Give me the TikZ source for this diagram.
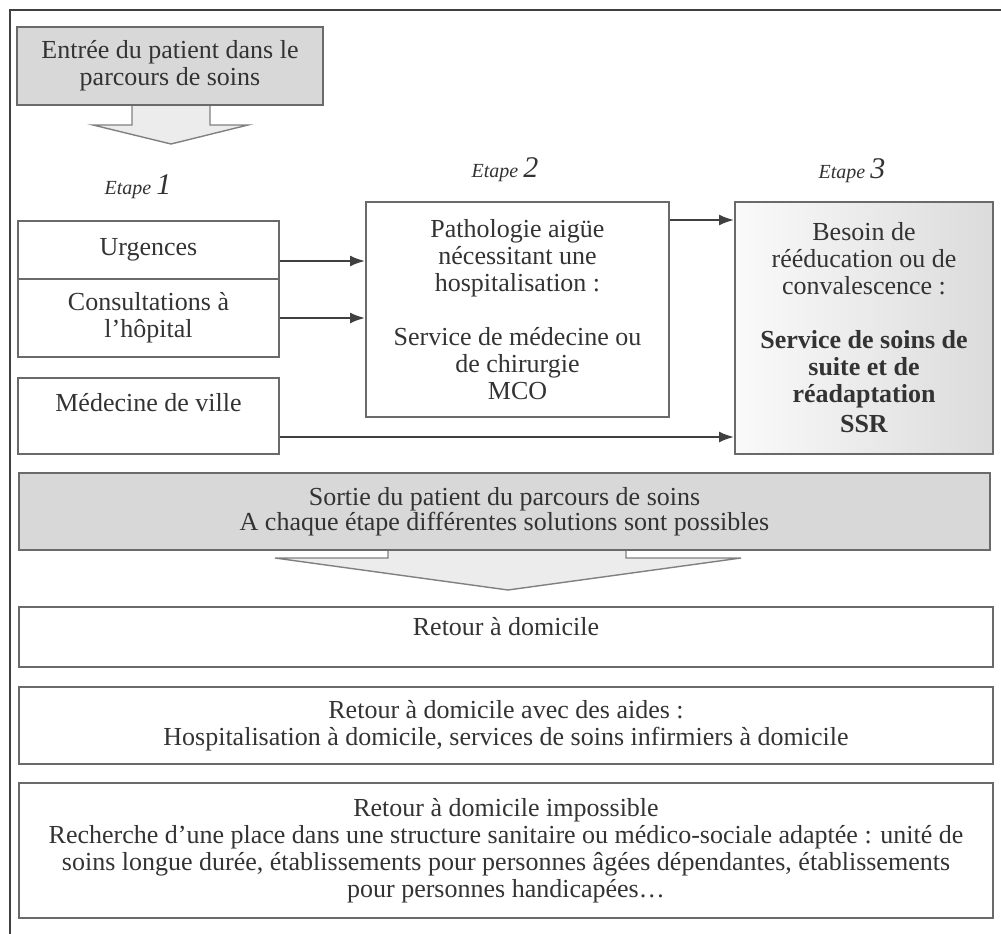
\documentclass[tikz,border=0pt]{standalone}
\usepackage{fontspec}
\setmainfont{Liberation Serif}
\usetikzlibrary{arrows.meta}
\newcommand\fs{\fontsize{26}{27}\selectfont}
\newcommand\fsb{\fontsize{26}{25}\selectfont}
\definecolor{txt}{HTML}{333333}
\definecolor{bord}{HTML}{6A6A6A}
\definecolor{grayfill}{HTML}{D8D8D8}
\definecolor{arrfill}{HTML}{ECECEC}
\begin{document}
\begin{tikzpicture}[x=1pt,y=-1pt,
  box/.style={draw=bord, line width=2pt, align=center, text=txt, font=\fs, inner sep=0pt},
  etape/.style={text=txt, font=\fontsize{20}{20}\selectfont\itshape, inner sep=0pt},
  arr/.style={draw=black!75, line width=2pt, -{Latex[length=15pt,width=11pt]}},
  bigarrow/.style={draw=black!50, line width=1.4pt, fill=arrfill}]
\useasboundingbox (0,0) rectangle (1001,934);
% outer frame (top and left)
\draw[line width=2pt, black!75] (1001,10) -- (10,10) -- (10,934);
% entry box and arrow
\draw[bigarrow] (132,104) -- (132,125) -- (93,125) -- (171,144) -- (248,125) -- (210,125) -- (210,104);
\node[box, fill=grayfill, minimum width=306pt, minimum height=78pt] (entry) at (170,66) {Entrée du patient dans le\\parcours de soins};
% etapes
\node[etape] (e1) at (138,187) {Etape {\fontsize{30}{30}\selectfont 1}};
\node[etape] (e2) at (505,170) {Etape {\fontsize{30}{30}\selectfont 2}};
\node[etape] (e3) at (852,171) {Etape {\fontsize{30}{30}\selectfont 3}};
% step 1
\node[box, minimum width=261pt, minimum height=58pt] (urg) at (148.5,250) {Urgences};
\node[box, minimum width=261pt, minimum height=78pt] (cons) at (148.5,318) {Consultations à\\l’hôpital};
\node[box, minimum width=261pt, minimum height=76pt] (ville) at (148.5,416) {Médecine de ville\\\mbox{}};
% step 2
\node[box, minimum width=303pt, minimum height=215pt] (mco) at (517.5,309.5) {Pathologie aigüe\\nécessitant une\\hospitalisation :\\\mbox{}\\Service de médecine ou\\de chirurgie\\MCO};
% step 3
\node[box, left color=black!2, right color=black!14, minimum width=258pt, minimum height=252pt] (ssr) at (864,328) {Besoin de\\rééducation ou de\\convalescence :\\\mbox{}\\\textbf{Service de soins de}\\\textbf{suite et de}\\\textbf{réadaptation}\\[3pt]\textbf{SSR}};
% connectors
\coordinate (u1) at ([yshift=-11pt]urg.east);
\draw[arr] (u1) -- (u1 -| mco.west);
\draw[arr] (cons.east) -- (cons.east -| mco.west);
\coordinate (m1) at ([yshift=-19pt]mco.north east);
\draw[arr] (m1) -- (m1 -| ssr.west);
\coordinate (v1) at ([yshift=18pt]ville.south east);
\draw[arr] (v1) -- (v1 -| ssr.west);
% sortie
\draw[bigarrow] (388,549) -- (388,558) -- (275,558) -- (508,590) -- (741,558) -- (626,558) -- (626,549);
\node[box, fill=grayfill, font=\fsb, minimum width=971pt, minimum height=77pt] (sortie) at (504.5,511.5) {Sortie du patient du parcours de soins\\A chaque étape différentes solutions sont possibles};
% outcomes
\node[box, minimum width=974pt, minimum height=60pt] (dom) at (506,637) {Retour à domicile\\[-6pt]\mbox{}};
\node[box, minimum width=974pt, minimum height=77pt] (aides) at (506,725.5) {Retour à domicile avec des aides :\\Hospitalisation à domicile, services de soins infirmiers à domicile};
\node[box, minimum width=974pt, minimum height=135pt] (imp) at (506,850.5) {Retour à domicile impossible\\Recherche d’une place dans une structure sanitaire ou médico-sociale adaptée : unité de\\soins longue durée, établissements pour personnes âgées dépendantes, établissements\\pour personnes handicapées…};
\end{tikzpicture}
\end{document}
